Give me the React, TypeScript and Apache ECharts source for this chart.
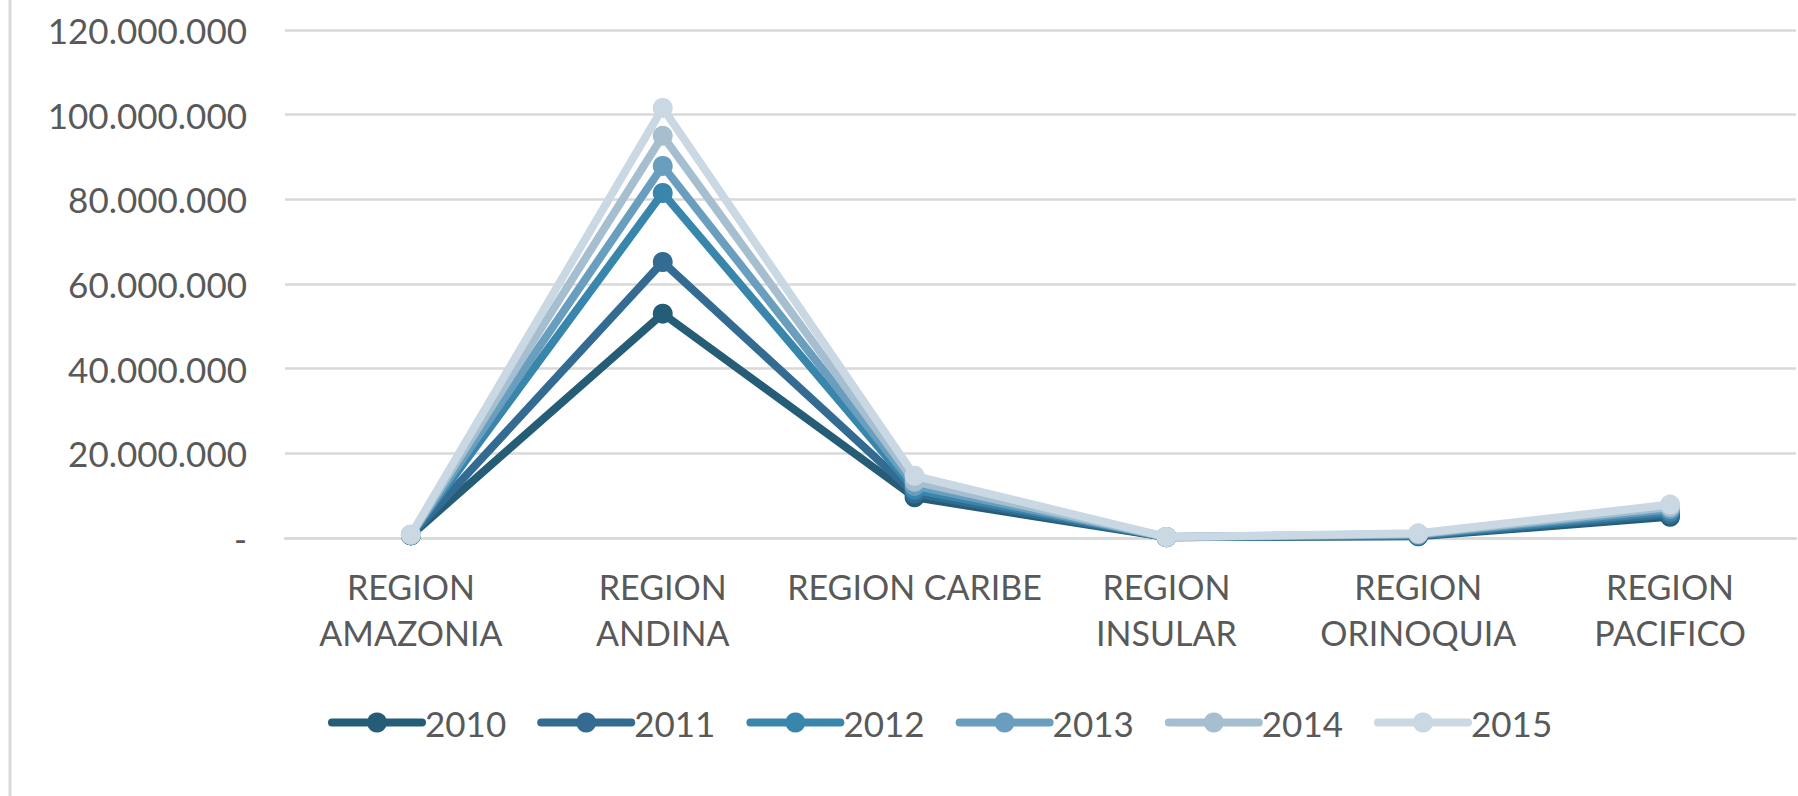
import React, { useEffect, useRef } from "react";
import * as echarts from "echarts";

const categories = [
  "REGION\nAMAZONIA",
  "REGION\nANDINA",
  "REGION CARIBE",
  "REGION\nINSULAR",
  "REGION\nORINOQUIA",
  "REGION\nPACIFICO",
];
const years = ["2010", "2011", "2012", "2013", "2014", "2015"];
const s2010 = [600000, 53000000, 9600000, 200000, 400000, 5000000];
const s2011 = [650000, 65200000, 10500000, 200000, 500000, 5600000];
const s2012 = [700000, 81500000, 11400000, 220000, 650000, 6200000];
const s2013 = [720000, 87900000, 12300000, 230000, 800000, 6800000];
const s2014 = [750000, 95000000, 13300000, 240000, 950000, 7300000];
const s2015 = [780000, 101600000, 14700000, 250000, 1100000, 7900000];
const seriesValues = [s2010, s2011, s2012, s2013, s2014, s2015];
const colors = ["#255d77", "#336b92", "#3886ab", "#6a9ebe", "#a6bfd0", "#c9d8e3"];
const yTicks = { min: 0, max: 120000000, interval: 20000000 };

const FONT = "Lato, 'Open Sans', sans-serif";
const TEXT = "#595959";

function fmt(v: number): string {
  if (v === 0) return "-";
  return String(Math.round(v)).replace(/\B(?=(\d{3})+(?!\d))/g, ".");
}

export default function App() {
  const ref = useRef<HTMLDivElement>(null);
  useEffect(() => {
    if (!ref.current) return;
    const chart = echarts.init(ref.current, undefined, { renderer: "svg" });
    chart.setOption({
      animation: false,
      backgroundColor: "#ffffff",
      textStyle: { fontFamily: FONT },
      grid: { left: 285, right: 2, top: 30, bottom: 258, containLabel: false },
      graphic: [
        {
          type: "line",
          shape: { x1: 10, y1: 0, x2: 10, y2: 796 },
          style: { stroke: "#d9d9d9", lineWidth: 3 },
        },
      ],
      legend: {
        data: years,
        left: 323,
        top: 700,
        itemWidth: 90,
        itemHeight: 25,
        itemGap: 31,
        lineStyle: { width: 8, cap: "round" },
        textStyle: { fontFamily: FONT, fontSize: 35, color: TEXT, padding: [0, 0, 0, -2] },
      },
      xAxis: {
        type: "category",
        data: categories,
        boundaryGap: true,
        axisLine: { show: true, lineStyle: { color: "#d9d9d9", width: 2.5 } },
        axisTick: { show: false },
        axisLabel: {
          interval: 0,
          margin: 25,
          fontFamily: FONT,
          fontSize: 34,
          lineHeight: 46,
          color: TEXT,
        },
      },
      yAxis: {
        type: "value",
        min: yTicks.min,
        max: yTicks.max,
        interval: yTicks.interval,
        axisLine: { show: false },
        axisTick: { show: false },
        splitLine: { lineStyle: { color: "#d9d9d9", width: 2.5 } },
        axisLabel: {
          margin: 38,
          fontFamily: FONT,
          fontSize: 35,
          color: TEXT,
          formatter: (v: number) => fmt(v),
        },
      },
      series: years.map((y, i) => ({
        name: y,
        type: "line",
        data: seriesValues[i],
        symbol: "circle",
        symbolSize: 20,
        showSymbol: true,
        lineStyle: { color: colors[i], width: 8, cap: "round", join: "round" },
        itemStyle: { color: colors[i] },
        z: 2 + i,
      })),
    });
    return () => chart.dispose();
  }, []);
  return (
    <div
      ref={ref}
      style={{ position: "fixed", left: 0, top: 0, width: 1798, height: 796 }}
    />
  );
}
